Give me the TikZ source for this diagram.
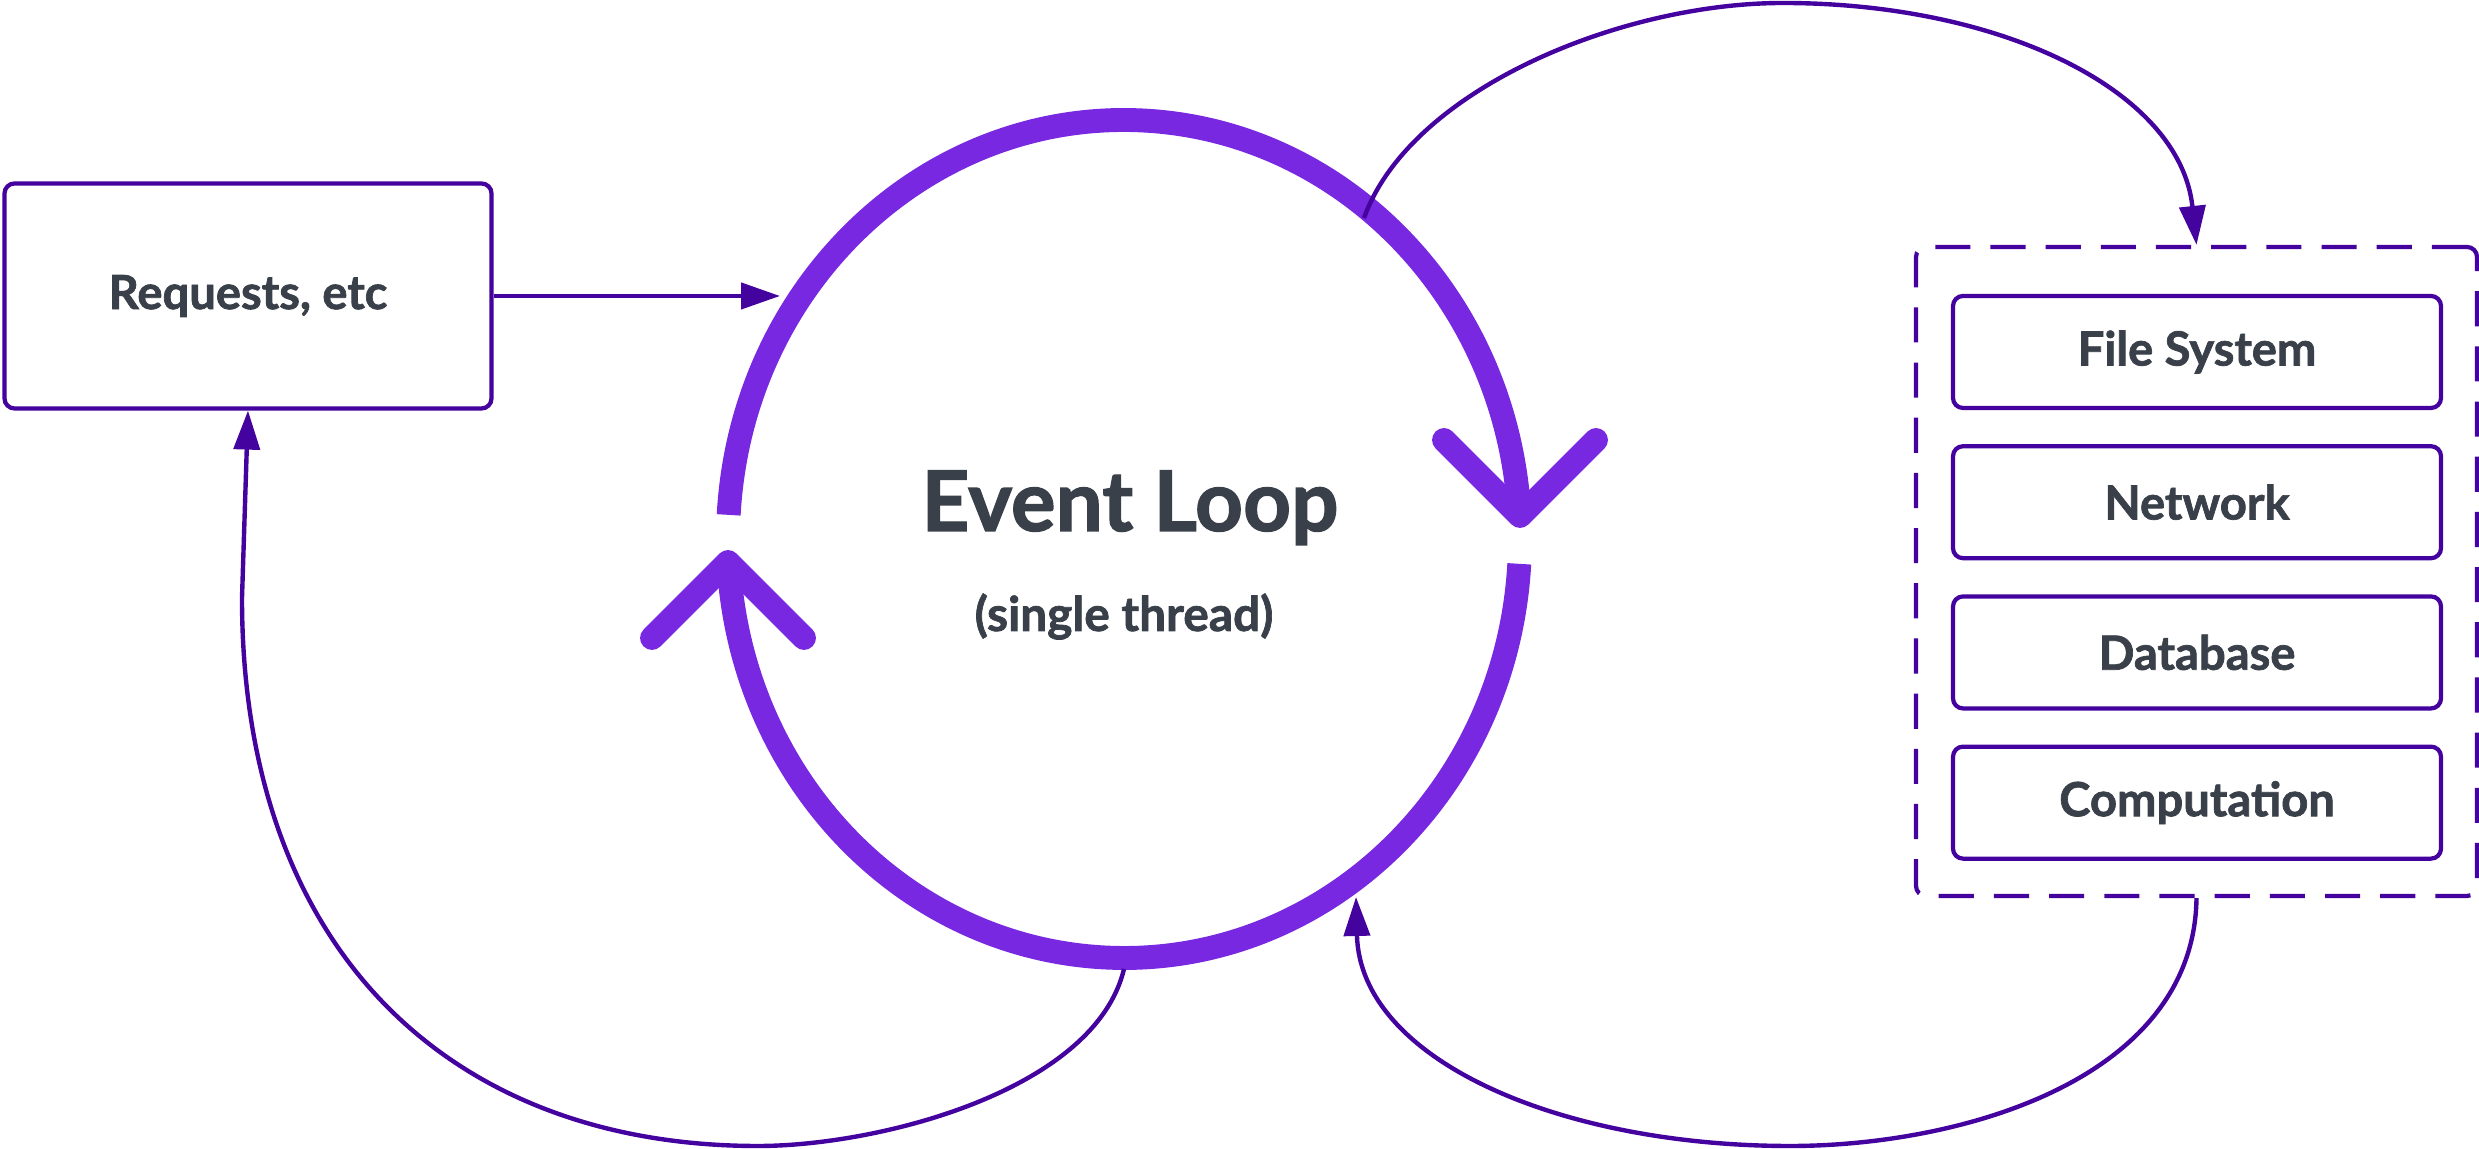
\documentclass[tikz,border=0pt]{standalone}
\usepackage{fontspec}
\setmainfont{Lato}[BoldFeatures={FakeBold=1.5}]
\usepackage{tikz}
\usetikzlibrary{arrows.meta,positioning}
\definecolor{LoopViolet}{HTML}{7828E0}
\definecolor{LinkIndigo}{HTML}{44039E}
\definecolor{LabelSlate}{HTML}{3A4049}

\begin{document}
\begin{tikzpicture}[node distance=3.4mm,
  box/.style={draw=LinkIndigo,line width=1.2pt,rounded corners=1mm,text=LabelSlate,
              font=\fontsize{13.4}{16}\selectfont\bfseries},
  svc/.style={box,minimum width=4.88cm,minimum height=1.12cm},
  link/.style={draw=LinkIndigo,line width=1.25pt,-{Triangle[length=3.9mm,width=2.6mm]}},
  ring/.style={draw=LoopViolet,line width=6.8pt},
  chev/.style={ring,line cap=round,line join=round}]
\useasboundingbox (0,0) rectangle (24.79,11.49);

\node[box,minimum width=4.87cm,minimum height=2.25cm] (req) at (2.48,8.53) {Requests, etc};

\coordinate (loop) at (11.24,6.10);
\draw[ring] (loop) ++(176.7:3.96cm and 4.19cm)
  arc[start angle=176.7,end angle=3.15,x radius=3.96cm,y radius=4.19cm];
\draw[ring] (loop) ++(-3.4:3.96cm and 4.19cm)
  arc[start angle=-3.4,end angle=-176.85,x radius=3.96cm,y radius=4.19cm];
\draw[chev] (14.44,7.09) -- (15.20,6.33) -- (15.96,7.09);
\draw[chev] (6.52,5.11) -- (7.28,5.87) -- (8.04,5.11);

\node[text=LabelSlate,font=\fontsize{23.8}{28}\selectfont\bfseries,anchor=base] (title) at (11.30,6.18) {Event Loop};
\node[text=LabelSlate,font=\fontsize{13.6}{16}\selectfont\bfseries,anchor=base] (sub) at (11.24,5.18) {(single thread)};

\node[draw=LinkIndigo,line width=1.2pt,dash pattern=on 10pt off 5.7pt,rounded corners=1mm,
      minimum width=5.61cm,minimum height=6.49cm] (ext) at (21.965,5.775) {};
\node[svc] (fs) at (21.97,7.97) {File System};
\node[svc,below=of fs] (net) {Network};
\node[svc,below=of net] (db) {Database};
\node[svc,below=of db] (comp) {Computation};

\coordinate (inL) at (7.80,8.53);
\coordinate (outT) at (13.64,9.31);
\coordinate (inB) at (13.56,2.52);
\coordinate (outB) at (11.24,1.80);
\coordinate (upL) at (2.42,5.51);

\draw[link] (req.east) -- (inL);
\draw[link] (outT) .. controls (14.10,10.59) and (16.20,11.46) .. (17.83,11.46)
  .. controls (20.00,11.46) and (21.80,10.59) .. (ext.north);
\draw[link] (ext.south) .. controls (21.94,0.69) and (19.60,0.03) .. (17.90,0.03)
  .. controls (15.60,0.03) and (13.60,0.89) .. (inB);
\draw[link] (outB) .. controls (10.95,0.59) and (8.80,0.03) .. (7.58,0.03)
  .. controls (4.50,0.03) and (2.42,1.99) .. (upL) -- (req.south);
\end{tikzpicture}
\end{document}
